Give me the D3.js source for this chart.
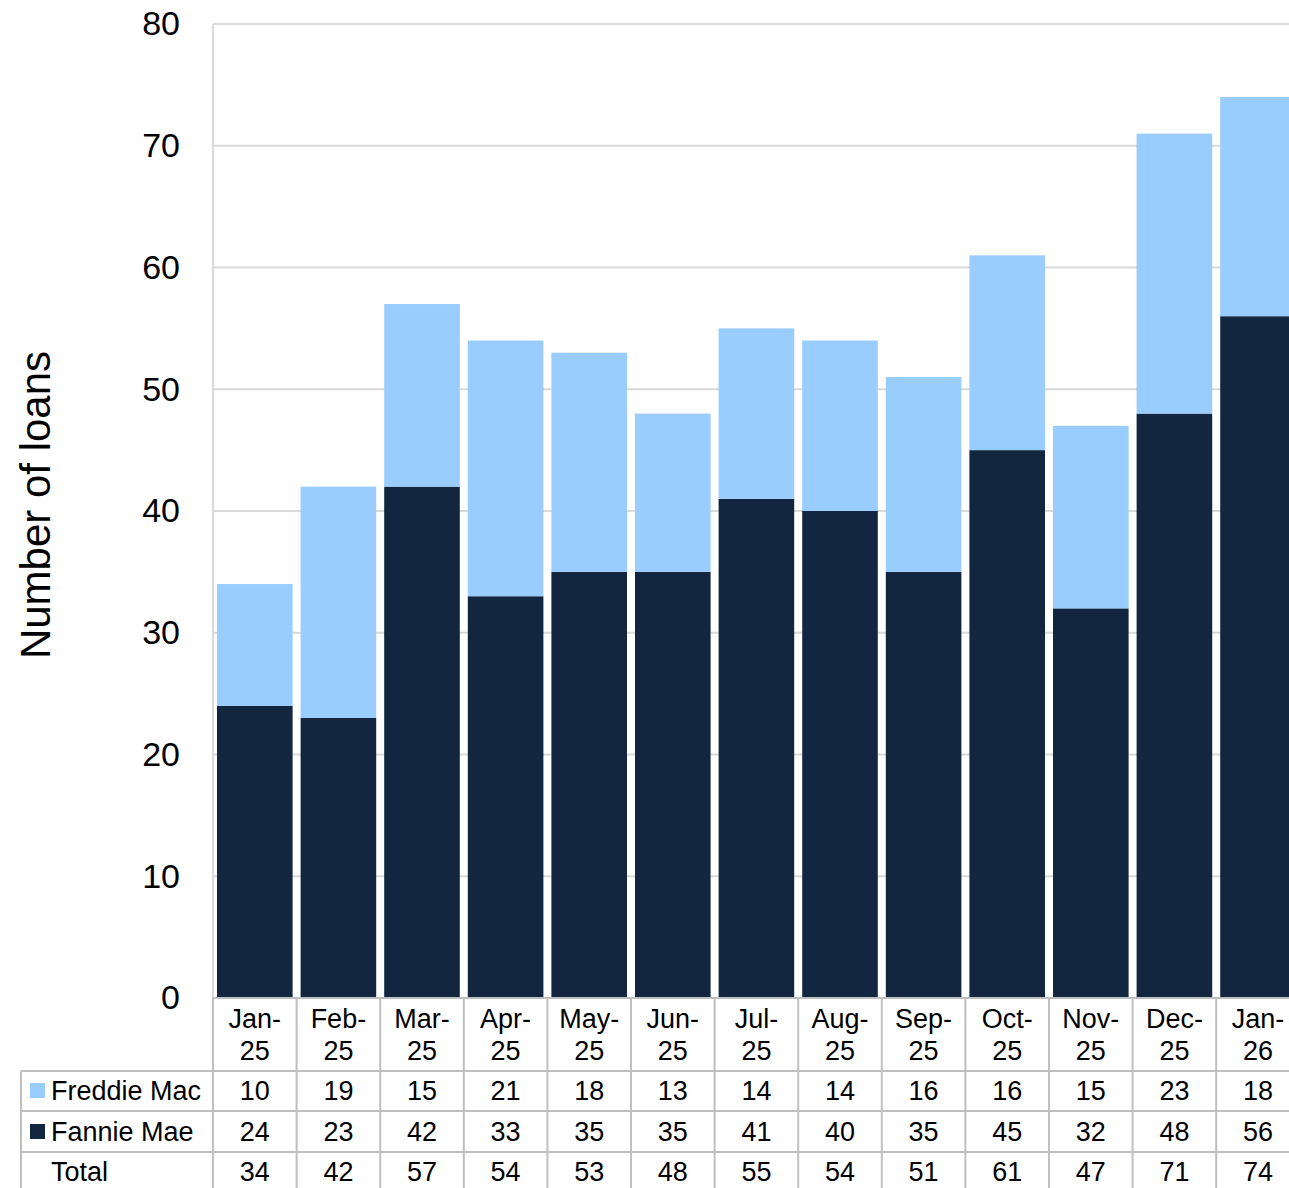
<!DOCTYPE html>
<html><head><meta charset="utf-8">
<script src="https://cdn.jsdelivr.net/npm/d3@7"></script>
<style>body{margin:0;background:#fff}svg{display:block;font-family:Arial,"Liberation Sans",sans-serif}</style>
</head><body>
<svg id="c" width="1289" height="1188"></svg>
<script>
const months = ["Jan-|25","Feb-|25","Mar-|25","Apr-|25","May-|25","Jun-|25","Jul-|25","Aug-|25","Sep-|25","Oct-|25","Nov-|25","Dec-|25","Jan-|26"];
const fannieMae = [24,23,42,33,35,35,41,40,35,45,32,48,56];
const freddieMac = [10,19,15,21,18,13,14,14,16,16,15,23,18];
const totals = [34,42,57,54,53,48,55,54,51,61,47,71,74];
const yTicks = [0,10,20,30,40,50,60,70,80];
const seriesNames = ["Freddie Mac","Fannie Mae","Total"];
const colors = {fannie:"#12263F", freddie:"#99CCFF", grid:"#D9D9D9", table:"#BFBFBF"};

const svg = d3.select("#c");
const L = 213, STEP = 83.6, T = 24, B = 998;
const R = L + STEP * months.length;
const xb = d3.scaleBand().domain(months).range([L, R]);
const gap = 8;
const y = d3.scaleLinear().domain([0, 80]).range([B, T]);

// gridlines
svg.append("g").selectAll("line").data(yTicks).join("line")
  .attr("x1", L).attr("x2", R).attr("y1", d => y(d)).attr("y2", d => y(d))
  .attr("stroke", colors.grid).attr("stroke-width", 2);
svg.append("line").attr("x1", L).attr("x2", L).attr("y1", T).attr("y2", B)
  .attr("stroke", colors.grid).attr("stroke-width", 2);

// y axis labels
const yAxis = d3.axisLeft(y).tickValues(yTicks).tickSize(0).tickPadding(33);
const ga = svg.append("g").attr("transform", `translate(${L},0)`).call(yAxis);
ga.select(".domain").remove();
ga.selectAll("text").attr("font-size", 34).attr("fill", "#000").attr("font-family", "Arial, 'Liberation Sans', sans-serif");

svg.append("text").attr("transform", `translate(50,${505}) rotate(-90)`)
  .attr("text-anchor", "middle").attr("font-size", 42).text("Number of loans");

// bars
const g = svg.append("g");
g.selectAll(".fm").data(months).join("rect")
  .attr("x", d => xb(d) + gap / 2).attr("width", xb.bandwidth() - gap)
  .attr("y", (d, i) => y(fannieMae[i])).attr("height", (d, i) => y(0) - y(fannieMae[i]))
  .attr("fill", colors.fannie);
g.selectAll(".fr").data(months).join("rect")
  .attr("x", d => xb(d) + gap / 2).attr("width", xb.bandwidth() - gap)
  .attr("y", (d, i) => y(fannieMae[i] + freddieMac[i])).attr("height", (d, i) => y(fannieMae[i]) - y(fannieMae[i] + freddieMac[i]))
  .attr("fill", colors.freddie);

// table
const tl = svg.append("g").attr("stroke", colors.table).attr("stroke-width", 2);
tl.append("line").attr("x1", L).attr("x2", R).attr("y1", B).attr("y2", B);
[1071, 1111, 1152].forEach(yy => tl.append("line").attr("x1", 21).attr("x2", R).attr("y1", yy).attr("y2", yy));
tl.append("line").attr("x1", 21).attr("x2", 21).attr("y1", 1071).attr("y2", 1188);
months.forEach(m => tl.append("line").attr("x1", xb(m)).attr("x2", xb(m)).attr("y1", B).attr("y2", 1188));

const tt = svg.append("g").attr("font-size", 27).attr("fill", "#000").attr("text-anchor", "middle");
months.forEach(m => {
  const cx = xb(m) + xb.bandwidth() / 2;
  const parts = m.split("|");
  tt.append("text").attr("x", cx).attr("y", 1028).text(parts[0]);
  tt.append("text").attr("x", cx).attr("y", 1060).text(parts[1]);
});
const rows = [freddieMac, fannieMae, totals];
const rowY = [1100, 1141, 1181];
rows.forEach((arr, r) => {
  months.forEach((m, i) => {
    tt.append("text").attr("x", xb(m) + xb.bandwidth() / 2).attr("y", rowY[r]).text(arr[i]);
  });
});
// legend labels
const swatch = [colors.freddie, colors.fannie, null];
seriesNames.forEach((n, r) => {
  if (swatch[r]) svg.append("rect").attr("x", 30).attr("y", rowY[r] - 17).attr("width", 15).attr("height", 15).attr("fill", swatch[r]);
  svg.append("text").attr("x", 51).attr("y", rowY[r]).attr("font-size", 27).text(n);
});
</script>
</body></html>
